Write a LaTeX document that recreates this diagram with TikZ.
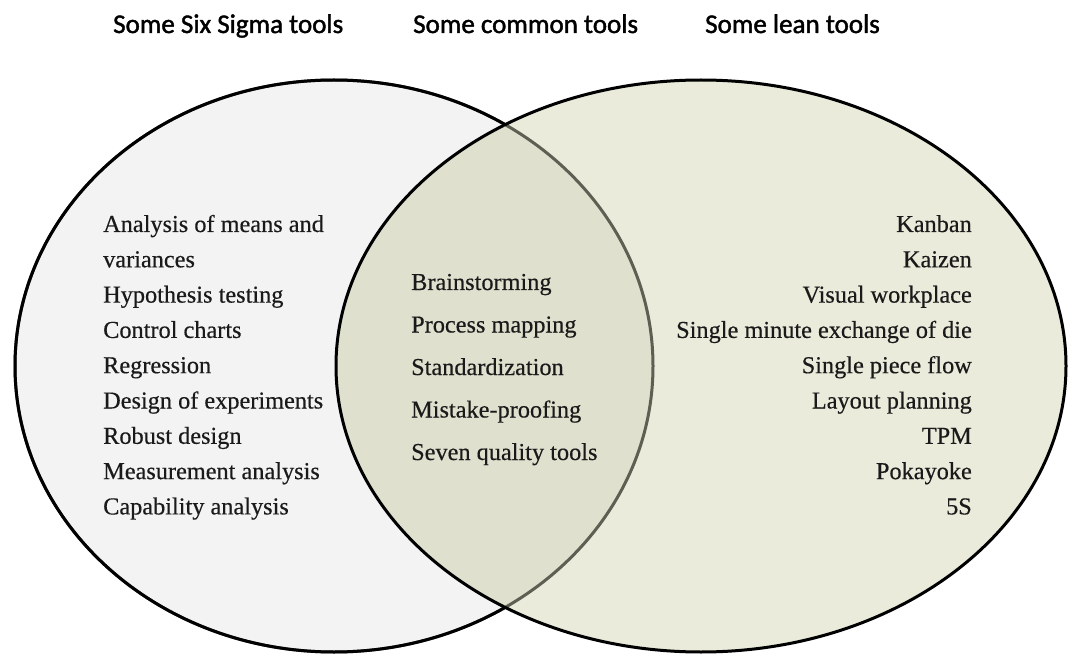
\documentclass[tikz,border=0pt]{standalone}
\usepackage{fontspec}
\setmainfont{Liberation Serif}[FakeBold=0.4]
\newfontfamily\headfont{Carlito}[FakeBold=1.6]
\definecolor{leftfill}{HTML}{F3F3F3}
\definecolor{rightfill}{HTML}{EAEBDA}
\definecolor{bothfill}{HTML}{DFE0CD}
\definecolor{innerline}{HTML}{5E5E52}
\definecolor{inktext}{HTML}{1A1A1A}
\begin{document}
\begin{tikzpicture}[x=1pt,y=-1pt,
  heading/.style={font=\headfont\fontsize{27}{30}\selectfont, text=black, anchor=base west, inner sep=0pt},
  itemL/.style={font=\fontsize{24.3}{28}\selectfont, text=inktext, anchor=base west, inner sep=0pt},
  itemR/.style={font=\fontsize{24.3}{28}\selectfont, text=inktext, anchor=base east, inner sep=0pt},
  outline/.style={line width=3pt},
  ]
\useasboundingbox (0,0) rectangle (1069,655);

% the two sets
\def\leftset{(334,366) ellipse [x radius=319pt, y radius=286pt]}
\def\rightset{(701,366) ellipse [x radius=365pt, y radius=286pt]}

\fill[leftfill] \leftset;
\fill[rightfill] \rightset;
\begin{scope}
  \clip \rightset;
  \fill[bothfill] \leftset;
\end{scope}

% left outline: grey where it runs inside the lean set, black elsewhere
\draw[outline, innerline] \leftset;
\begin{scope}[even odd rule]
  \clip (-10,-10) rectangle (1080,670) \rightset;
  \draw[outline, black] \leftset;
\end{scope}
\draw[outline, black] \rightset;

% headings
\node[heading] (hsix)  at (113,33) {Some Six Sigma tools};
\node[heading] (hcom)  at (413,33) {Some common tools};
\node[heading] (hlean) at (705,33) {Some lean tools};

% Six Sigma tools
\node[itemL] (s1) at (103,232.0) {Analysis of means and};
\node[itemL] (s2) at (103,267.3) {variances};
\node[itemL] (s3) at (103,302.6) {Hypothesis testing};
\node[itemL] (s4) at (103,337.9) {Control charts};
\node[itemL] (s5) at (103,373.2) {Regression};
\node[itemL] (s6) at (103,408.5) {Design of experiments};
\node[itemL] (s7) at (103,443.8) {Robust design};
\node[itemL] (s8) at (103,479.1) {Measurement analysis};
\node[itemL] (s9) at (103,514.4) {Capability analysis};

% common tools
\node[itemL] (c1) at (411,290.0) {Brainstorming};
\node[itemL] (c2) at (411,332.5) {Process mapping};
\node[itemL] (c3) at (411,375.0) {Standardization};
\node[itemL] (c4) at (411,417.5) {Mistake-proofing};
\node[itemL] (c5) at (411,460.0) {Seven quality tools};

% lean tools
\node[itemR] (l1) at (972,232.0) {Kanban};
\node[itemR] (l2) at (972,267.3) {Kaizen};
\node[itemR] (l3) at (972,302.6) {Visual workplace};
\node[itemR] (l4) at (972,337.9) {Single minute exchange of die};
\node[itemR] (l5) at (972,373.2) {Single piece flow};
\node[itemR] (l6) at (972,408.5) {Layout planning};
\node[itemR] (l7) at (972,443.8) {TPM};
\node[itemR] (l8) at (972,479.1) {Pokayoke};
\node[itemR] (l9) at (972,514.4) {5S};
\end{tikzpicture}
\end{document}
